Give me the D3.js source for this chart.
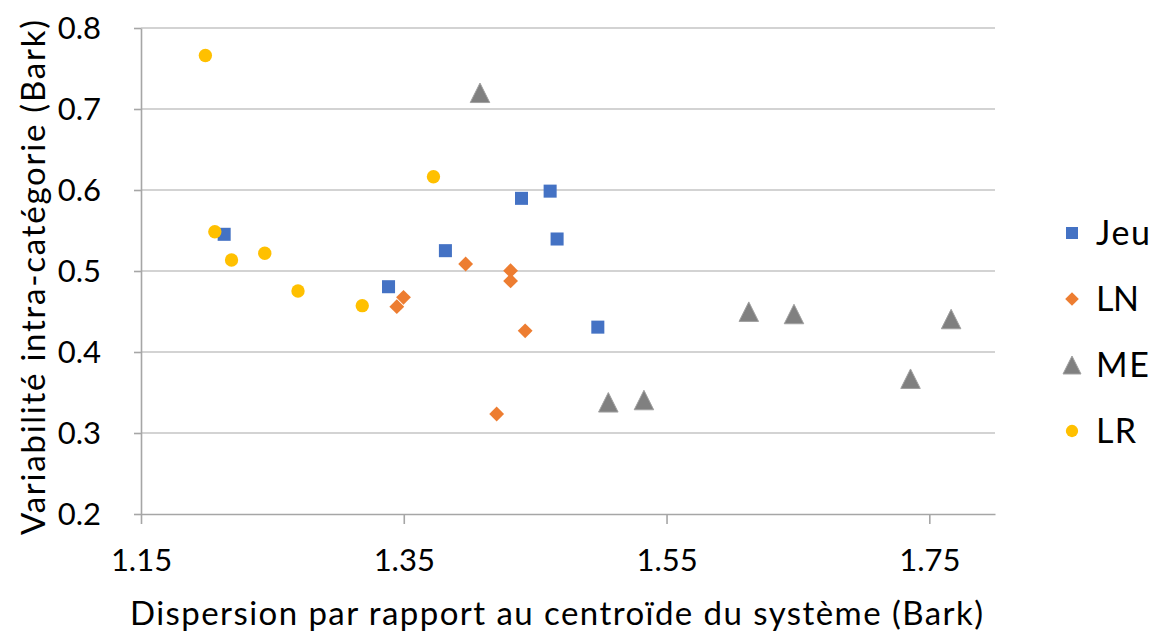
<!DOCTYPE html>
<html>
<head>
<meta charset="utf-8">
<script src="https://cdn.jsdelivr.net/npm/d3@7"></script>
<style>
  html, body { margin: 0; padding: 0; background: #fff; }
  svg text { font-family: Lato, "Open Sans", sans-serif; fill: #000; }
</style>
</head>
<body>
<svg id="chart" width="1161" height="635"></svg>
<script>
// Series: [dispersion, variabilité]
const jeu = [[1.2133,0.5453],[1.3384,0.4806],[1.3817,0.5251],[1.4396,0.5897],[1.4614,0.5986],[1.4667,0.5395],[1.4977,0.4307]];
const ln  = [[1.3498,0.4675],[1.3447,0.4560],[1.3971,0.5086],[1.4313,0.5004],[1.4313,0.4877],[1.4424,0.4261],[1.4207,0.3235]];
const me  = [[1.4080,0.7200],[1.6126,0.4498],[1.6470,0.4469],[1.7666,0.4407],[1.7357,0.3670],[1.5057,0.3379],[1.5328,0.3407]];
const lr  = [[1.1990,0.7660],[1.2062,0.5485],[1.2189,0.5136],[1.2442,0.5219],[1.2695,0.4753],[1.3184,0.4572],[1.3726,0.6164]];

const xTicks = [1.15, 1.35, 1.55, 1.75];
const yTicks = [0.2, 0.3, 0.4, 0.5, 0.6, 0.7, 0.8];
const seriesNames = ["Jeu", "LN", "ME", "LR"];

// isosceles triangle centred on its bounding box
const triangleBox = {
  draw(context, size) {
    const h = Math.sqrt(size);
    context.moveTo(0, -h / 2);
    context.lineTo(h / 2, h / 2);
    context.lineTo(-h / 2, h / 2);
    context.closePath();
  }
};

const series = [
  { name: seriesNames[0], data: jeu, color: "#4472C4", stroke: "none",    symbol: d3.symbolSquare,   size: 170 },
  { name: seriesNames[1], data: ln,  color: "#ED7D31", stroke: "none",    symbol: d3.symbolDiamond2, size: 140 },
  { name: seriesNames[2], data: me,  color: "#808080", stroke: "#a0a0a0", symbol: triangleBox,       size: 380 },
  { name: seriesNames[3], data: lr,  color: "#FFC000", stroke: "none",    symbol: d3.symbolCircle,   size: 140 }
];

const svg = d3.select("#chart");
const plot = { left: 141, right: 995, top: 28, bottom: 514 };

const x = d3.scaleLinear().domain([1.15, 1.8]).range([plot.left, plot.right]);
const y = d3.scaleLinear().domain([0.2, 0.8]).range([plot.bottom, plot.top]);

// horizontal gridlines
svg.append("g")
  .selectAll("line")
  .data(yTicks.filter(v => v > 0.2))
  .join("line")
  .attr("x1", plot.left).attr("x2", plot.right)
  .attr("y1", d => y(d)).attr("y2", d => y(d))
  .attr("stroke", "#c4c4c4").attr("stroke-width", 1.6);

// y axis
const yAxis = svg.append("g")
  .attr("transform", `translate(${plot.left},0)`)
  .call(d3.axisLeft(y).tickValues(yTicks).tickFormat(d3.format(".1f")).tickSize(7).tickSizeOuter(0).tickPadding(33));
yAxis.select(".domain").attr("stroke", "#a6a6a6").attr("stroke-width", 1.6);
yAxis.selectAll(".tick line").attr("stroke", "#a6a6a6").attr("stroke-width", 1.6);
yAxis.selectAll(".tick text").style("font-size", "31px").attr("dy", "0.35em");

// x axis
const xAxis = svg.append("g")
  .attr("transform", `translate(0,${plot.bottom})`)
  .call(d3.axisBottom(x).tickValues(xTicks).tickFormat(d3.format(".2f")).tickSize(10).tickSizeOuter(0).tickPadding(25));
xAxis.select(".domain").attr("stroke", "#a6a6a6").attr("stroke-width", 1.6);
xAxis.selectAll(".tick line").attr("stroke", "#a6a6a6").attr("stroke-width", 1.6);
xAxis.selectAll(".tick text").style("font-size", "31px");

// axis titles
svg.append("text")
  .attr("x", 130).attr("y", 625)
  .attr("textLength", 853).attr("lengthAdjust", "spacing")
  .style("font-size", "33px")
  .text("Dispersion par rapport au centroïde du système (Bark)");

svg.append("text")
  .attr("transform", "translate(45,535) rotate(-90)")
  .attr("textLength", 515).attr("lengthAdjust", "spacing")
  .style("font-size", "33px")
  .text("Variabilité intra-catégorie (Bark)");

// points
series.forEach(s => {
  const sym = d3.symbol().type(s.symbol).size(s.size);
  svg.append("g")
    .selectAll("path")
    .data(s.data)
    .join("path")
    .attr("d", sym)
    .attr("transform", d => `translate(${x(d[0])},${y(d[1])})`)
    .attr("fill", s.color)
    .attr("stroke", s.stroke)
    .attr("stroke-width", 1);
});

// legend
const legend = svg.append("g");
const legendWidths = [54, 43, 53, 40];
series.forEach((s, i) => {
  const ly = 233 + i * 66;
  legend.append("path")
    .attr("d", d3.symbol().type(s.symbol).size(s.size * 0.85)())
    .attr("transform", `translate(1072,${ly})`)
    .attr("fill", s.color)
    .attr("stroke", s.stroke);
  legend.append("text")
    .attr("x", 1096).attr("y", ly)
    .attr("dy", "0.36em")
    .attr("textLength", legendWidths[i]).attr("lengthAdjust", "spacing")
    .style("font-size", "34px")
    .text(s.name);
});
</script>
</body>
</html>
